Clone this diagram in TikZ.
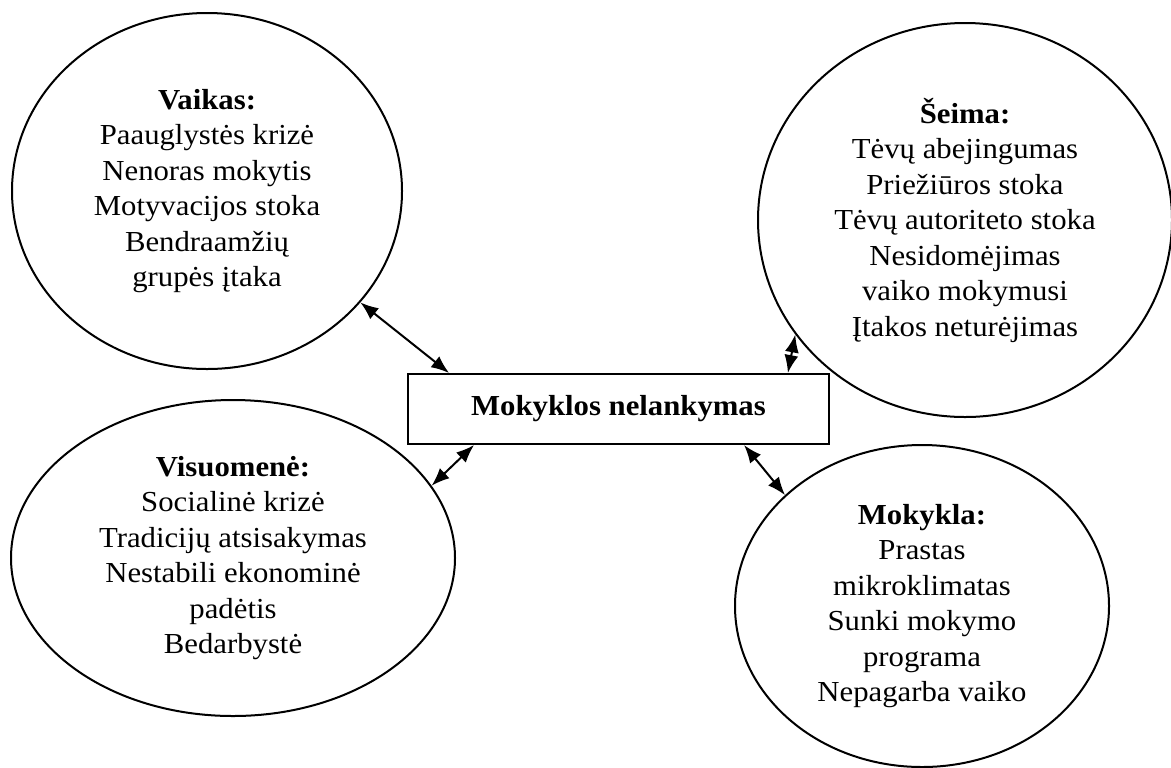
\documentclass[tikz,border=0pt]{standalone}
\usepackage{fontspec}
\setmainfont{Liberation Serif}[FakeStretch=1.06]
\usetikzlibrary{arrows.meta,shapes.geometric}

\begin{document}
\begin{tikzpicture}[x=0.5pt,y=-0.5pt]
\tikzstyle{e} = [draw,line width=1pt,ellipse,inner sep=0pt,align=center,font=\fontsize{14.5}{17.75}\selectfont]
\tikzstyle{a} = [line width=1pt,{Latex[length=9pt,width=7pt]}-{Latex[length=9pt,width=7pt]}]
\useasboundingbox (0,0) rectangle (1171,767);
\node[draw,line width=1pt,minimum width=210.5pt,minimum height=35pt,font=\fontsize{14.5}{17.75}\selectfont\bfseries] (c) at (618.5,409) {Mokyklos nelankymas};
\node[e,minimum width=195pt,minimum height=178pt] (v) at (207,191)
  {\textbf{Vaikas:}\\Paauglystės krizė\\Nenoras mokytis\\Motyvacijos stoka\\Bendraamžių\\grupės įtaka};
\node[e,minimum width=207pt,minimum height=197pt] (s) at (965,220)
  {\textbf{Šeima:}\\Tėvų abejingumas\\Priežiūros stoka\\Tėvų autoriteto stoka\\Nesidomėjimas\\vaiko mokymusi\\Įtakos neturėjimas};
\node[e,minimum width=222pt,minimum height=158pt] (vi) at (233,558)
  {\textbf{Visuomenė:}\\Socialinė krizė\\Tradicijų atsisakymas\\Nestabili ekonominė\\padėtis\\Bedarbystė};
\node[e,minimum width=187pt,minimum height=161pt] (m) at (922,606)
  {\textbf{Mokykla:}\\Prastas\\mikroklimatas\\Sunki mokymo\\programa\\Nepagarba vaiko};
\path[a]
(v.-36) edge (c.168)
(s.214) edge (c.12)
(vi.20) edge (c.194)
(m.141) edge (c.-16);
\end{tikzpicture}
\end{document}
